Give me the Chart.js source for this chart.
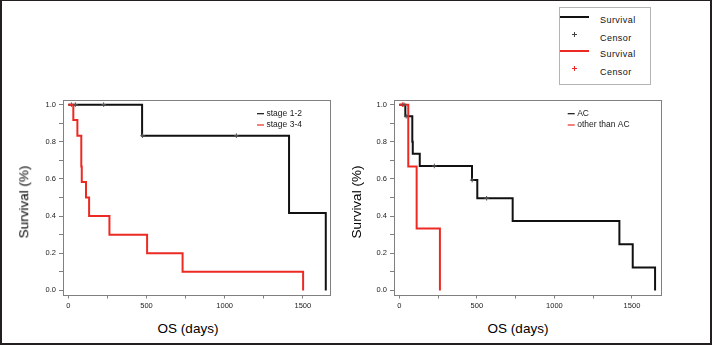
<!DOCTYPE html>
<html>
<head>
<meta charset="utf-8">
<script src="https://cdn.jsdelivr.net/npm/chart.js@4.4.1/dist/chart.umd.min.js"></script>
<style>
  body { margin: 0; background: #fff; }
  #fig { position: relative; width: 712px; height: 345px; overflow: hidden;
         font-family: "Liberation Sans", Arial, sans-serif; color: #111; }
  #outline { position: absolute; left: 0; top: 0; width: 712px; height: 345px;
             box-sizing: border-box; border: 2px solid #231f20; border-top-width: 1px; }
  canvas { position: absolute; }
  .axt { position: absolute; font-size: 13.5px; line-height: 1; white-space: nowrap;
         color: #000; transform: translate(-50%, -50%); }
  .axt.rot { transform: translate(-50%, -50%) rotate(-90deg); }
  #keybox { position: absolute; left: 559px; top: 7px; width: 92px; height: 78px;
            box-sizing: border-box; border: 1px solid #b4b4b4; }
  .kline { position: absolute; left: 560px; width: 29px; height: 2.5px; }
  .ktxt { position: absolute; left: 600px; font-size: 9px; letter-spacing: 0.45px;
          line-height: 1; color: #111; transform: translateY(-50%); }
  .kh { position: absolute; left: 572px; width: 5px; height: 1px; }
  .kv { position: absolute; left: 574px; width: 1px; height: 5px; }
</style>
</head>
<body>
<div id="fig">
  <canvas id="stageChart" width="345" height="222" style="left:0;top:88px"></canvas>
  <canvas id="histoChart" width="367" height="222" style="left:345px;top:88px"></canvas>

  <div class="axt rot" style="left:24px;top:202px">Survival (%)</div>
  <div class="axt" style="left:188px;top:329px">OS (days)</div>
  <div class="axt rot" style="left:357px;top:202px">Survival (%)</div>
  <div class="axt" style="left:518px;top:329px">OS (days)</div>

  <div id="keybox"></div>
  <div class="kline" style="top:15.5px;background:#111"></div>
  <div class="ktxt" style="top:20px">Survival</div>
  <div class="kh" style="top:34px;background:#444"></div>
  <div class="kv" style="top:32px;background:#444"></div>
  <div class="ktxt" style="top:38px">Censor</div>
  <div class="kline" style="top:49.5px;background:#ec2a23"></div>
  <div class="ktxt" style="top:54px">Survival</div>
  <div class="kh" style="top:67.5px;background:#ec2a23"></div>
  <div class="kv" style="top:65.5px;background:#ec2a23"></div>
  <div class="ktxt" style="top:72px">Censor</div>

  <div id="outline"></div>
</div>

<script>
// stage 1-2 vs stage 3-4
var stageEarlyDays = [0, 472, 1412, 1647];
var stageEarlySurv = [1, 0.833, 0.417, 0];
var stageEarlyCensorDays = [45, 226, 475, 1075];
var stageEarlyCensorSurv = [1, 1, 0.833, 0.833];

var stageLateDays = [0, 32, 58, 83, 86, 113, 133, 263, 504, 731, 1502];
var stageLateSurv = [1, 0.917, 0.833, 0.667, 0.583, 0.5, 0.4, 0.3, 0.2, 0.1, 0];
var stageLateCensorDays = [20];
var stageLateCensorSurv = [1];

// AC vs other than AC
var acDays = [0, 39, 84, 87, 132, 469, 503, 731, 1419, 1505, 1649];
var acSurv = [1, 0.9375, 0.8, 0.736, 0.67, 0.594, 0.496, 0.373, 0.248, 0.124, 0];
var acCensorDays = [30, 45, 226, 470, 563];
var acCensorSurv = [1, 0.9375, 0.67, 0.594, 0.496];

var otherDays = [0, 58, 112, 262];
var otherSurv = [1, 0.667, 0.333, 0];
var otherCensorDays = [20];
var otherCensorSurv = [1];

var xTicks = [0, 250, 500, 750, 1000, 1250, 1500];
var xTickLabels = ['0', '', '500', '', '1000', '', '1500'];
var yTicks = [0, 0.1, 0.2, 0.3, 0.4, 0.5, 0.6, 0.7, 0.8, 0.9, 1];
var yTickLabels = ['0.0', '', '0.2', '', '0.4', '', '0.6', '', '0.8', '', '1.0'];

var BLACK = '#111111', RED = '#ec2a23';

Chart.defaults.font.family = '"Liberation Sans", Arial, sans-serif';
Chart.defaults.color = '#222';

function pts(xs, ys) {
    return xs.map(function(x, i){ return {x: x, y: ys[i]}; });
}

// gray box round the plot area
var plotFrame = {
    id: 'plotFrame',
    beforeDatasetsDraw: function(chart){
        var a = chart.chartArea, ctx = chart.ctx;
        ctx.save();
        ctx.strokeStyle = '#808080';
        ctx.lineWidth = 1;
        ctx.strokeRect(Math.round(a.left) + 0.5, Math.round(a.top) + 0.5,
                       Math.round(a.width), Math.round(a.height));
        ctx.restore();
    }
};

// small key in the upper right of the plot
var innerLegend = {
    id: 'innerLegend',
    afterDatasetsDraw: function(chart, args, opts){
        var a = chart.chartArea, ctx = chart.ctx;
        var curves = chart.data.datasets.filter(function(d){ return d.type === 'line'; });
        ctx.save();
        ctx.font = '8.5px "Liberation Sans", Arial, sans-serif';
        ctx.textBaseline = 'middle';
        curves.forEach(function(d, i){
            var x = a.left + opts.x, y = a.top + opts.y + i * 11.3;
            ctx.strokeStyle = d.borderColor;
            ctx.lineWidth = 1.2;
            ctx.beginPath();
            ctx.moveTo(x, y);
            ctx.lineTo(x + 7, y);
            ctx.stroke();
            ctx.fillStyle = '#1a1a1a';
            ctx.fillText(d.label, x + 9.5, y);
        });
        ctx.restore();
    }
};

function curve(label, days, surv, color, order){
    return {
        type: 'line', label: label, data: pts(days, surv),
        borderColor: color, borderWidth: 2, stepped: true,
        pointRadius: 0, fill: false, order: order,
        borderJoinStyle: 'miter', borderCapStyle: 'butt'
    };
}

function censors(days, surv, color, order){
    return {
        type: 'scatter', label: 'Censor', data: pts(days, surv),
        pointStyle: 'cross', pointRadius: 2.3, borderWidth: 1,
        borderColor: color, backgroundColor: color, showLine: false, order: order
    };
}

function kmChart(id, datasets, xr, yAxisWidth, pad, keyPos){
    var ctx = document.getElementById(id).getContext('2d');
    return new Chart(ctx, {
        data: {datasets: datasets},
        plugins: [plotFrame, innerLegend],
        options: {
            responsive: false,
            animation: false,
            devicePixelRatio: 1,
            layout: {padding: pad},
            plugins: {
                legend: {display: false},
                tooltip: {enabled: false},
                innerLegend: keyPos
            },
            scales: {
                x: {
                    type: 'linear', min: xr[0], max: xr[1],
                    afterBuildTicks: function(s){ s.ticks = xTicks.map(function(v){ return {value: v}; }); },
                    afterFit: function(s){ s.height = pad.axisH; },
                    ticks: {
                        font: {size: 7.5}, padding: 3, maxRotation: 0, autoSkip: false,
                        callback: function(v, i){ return xTickLabels[i]; }
                    },
                    grid: {drawOnChartArea: false, tickLength: 4, color: '#808080'},
                    border: {display: false}
                },
                y: {
                    type: 'linear', min: -0.022, max: 1.025,
                    afterBuildTicks: function(s){ s.ticks = yTicks.map(function(v){ return {value: v}; }); },
                    afterFit: function(s){ s.width = yAxisWidth; },
                    ticks: {
                        font: {size: 7.5}, padding: 3, autoSkip: false,
                        callback: function(v, i){ return yTickLabels[i]; }
                    },
                    grid: {drawOnChartArea: false, tickLength: 4, color: '#808080'},
                    border: {display: false}
                }
            }
        }
    });
}

kmChart('stageChart', [
    curve('stage 1-2', stageEarlyDays, stageEarlySurv, BLACK, 2),
    curve('stage 3-4', stageLateDays, stageLateSurv, RED, 1),
    censors(stageEarlyCensorDays, stageEarlyCensorSurv, '#555', 0),
    censors(stageLateCensorDays, stageLateCensorSurv, RED, 0)
], [-34, 1674], 63, {left: 0, right: 15, top: 12, bottom: 0, axisH: 15.5}, {x: 194, y: 13.7});

kmChart('histoChart', [
    curve('AC', acDays, acSurv, BLACK, 2),
    curve('other than AC', otherDays, otherSurv, RED, 1),
    censors(acCensorDays, acCensorSurv, '#555', 0),
    censors(otherCensorDays, otherCensorSurv, RED, 0)
], [-34, 1684], 49, {left: 0, right: 51.5, top: 12, bottom: 0, axisH: 15.5}, {x: 173.7, y: 13.7});
</script>
</body>
</html>
